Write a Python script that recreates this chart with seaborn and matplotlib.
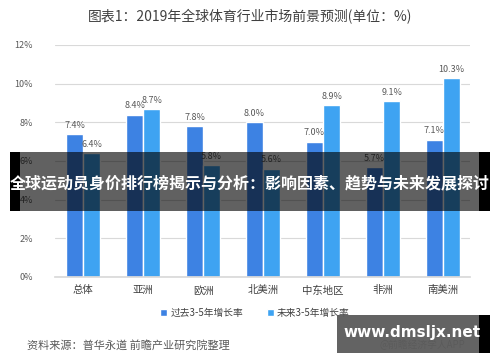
import matplotlib
matplotlib.use("Agg")
import matplotlib.pyplot as plt
import seaborn as sns
import pandas as pd
from matplotlib.patches import Rectangle

regions = ["总体", "亚洲", "欧洲", "北美洲", "中东地区", "非洲", "南美洲"]
past = [7.4, 8.4, 7.8, 8.0, 7.0, 5.7, 7.1]
future = [6.4, 8.7, 5.8, 5.6, 8.9, 9.1, 10.3]
series = ["过去3-5年增长率", "未来3-5年增长率"]
yticks = [0, 2, 4, 6, 8, 10, 12]
title = "图表1：2019年全球体育行业市场前景预测(单位：%)"
source = "资料来源：普华永道 前瞻产业研究院整理"
banner = "全球运动员身价排行榜揭示与分析：影响因素、趋势与未来发展探讨"
site = "www.dmsljx.net"

sns.set_theme(style="white")
plt.rcParams['font.family'] = ['Noto Sans CJK SC', 'DejaVu Sans']

df = pd.DataFrame({
    "region": regions * 2,
    "value": past + future,
    "series": [series[0]] * len(regions) + [series[1]] * len(regions),
})

fig = plt.figure(figsize=(5, 3.62), dpi=100)
ax = fig.add_axes([0.11, 0.235, 0.83, 0.641])
palette = {series[0]: "#3d82e3", series[1]: "#3ea3f2"}
sns.barplot(data=df, x="region", y="value", hue="series", palette=palette,
            width=0.57, ax=ax, legend=True, saturation=1)

ax.set_ylim(0, 12)
ax.set_xlim(-0.47, 6.45)
ax.set_yticks(yticks)
ax.set_yticklabels([f"{t}%" for t in yticks], fontsize=6.5, color="#595959")
ax.tick_params(axis="x", labelsize=7.5, colors="#404040", length=0, pad=6)
ax.tick_params(axis="y", length=0, pad=16)
ax.set_xlabel("")
ax.set_ylabel("")
ax.grid(axis="y", color="#d9d9d9", linewidth=0.8)
ax.set_axisbelow(True)
for s in ["top", "right", "left"]:
    ax.spines[s].set_visible(False)
ax.spines["bottom"].set_color("#d9d9d9")

for cont in ax.containers:
    ax.bar_label(cont, labels=[f"{v:.1f}%" for v in cont.datavalues],
                 fontsize=6.5, color="#595959", padding=3)

leg = ax.legend(loc="center", bbox_to_anchor=(0.51, 1 - 313 / 362), bbox_transform=fig.transFigure,
                ncol=2, frameon=False, fontsize=7, handlelength=0.7, handleheight=0.7,
                handletextpad=0.3, columnspacing=2.5)
for t in leg.get_texts():
    t.set_color("#404040")

fig.text(0.5, 1 - 17 / 362, title, ha="center", va="center", fontsize=10, color="#404040")
fig.text(27 / 500, 1 - 345 / 362, source, ha="left", va="center", fontsize=8, color="#595959")
fig.text(465 / 500, 1 - 345 / 362, "@前瞻经济学人APP", ha="right", va="center", fontsize=7, color="#595959")

# banner overlay
H = 362.0
W = 500.0
fig.patches.append(Rectangle((10 / W, 1 - 211 / H), 10 / W, 59 / H, transform=fig.transFigure,
                             facecolor="black", edgecolor="none", zorder=10))
fig.patches.append(Rectangle((479 / W, 1 - 211 / H), 11 / W, 59 / H, transform=fig.transFigure,
                             facecolor="black", edgecolor="none", zorder=10))
fig.patches.append(Rectangle((20 / W, 1 - 211 / H), 459 / W, 59 / H, transform=fig.transFigure,
                             facecolor="black", edgecolor="none", alpha=0.62, zorder=10))
fig.text(0.5, 1 - 183 / H, banner, ha="center", va="center", fontsize=11.5, color="white",
         fontweight="bold", zorder=11)

# site box
fig.patches.append(Rectangle((337 / W, 1 - 353 / H), 142 / W, 38 / H, transform=fig.transFigure,
                             facecolor="#5b5b5b", edgecolor="none", alpha=0.95, zorder=10))
fig.patches.append(Rectangle((479 / W, 1 - 353 / H), 11 / W, 38 / H, transform=fig.transFigure,
                             facecolor="black", edgecolor="none", zorder=10))
fig.text(412 / W, 1 - 333 / H, site, ha="center", va="center", fontsize=11, color="white",
         fontweight="bold", family="DejaVu Sans", zorder=11)

fig.savefig("out.png", dpi=100)
